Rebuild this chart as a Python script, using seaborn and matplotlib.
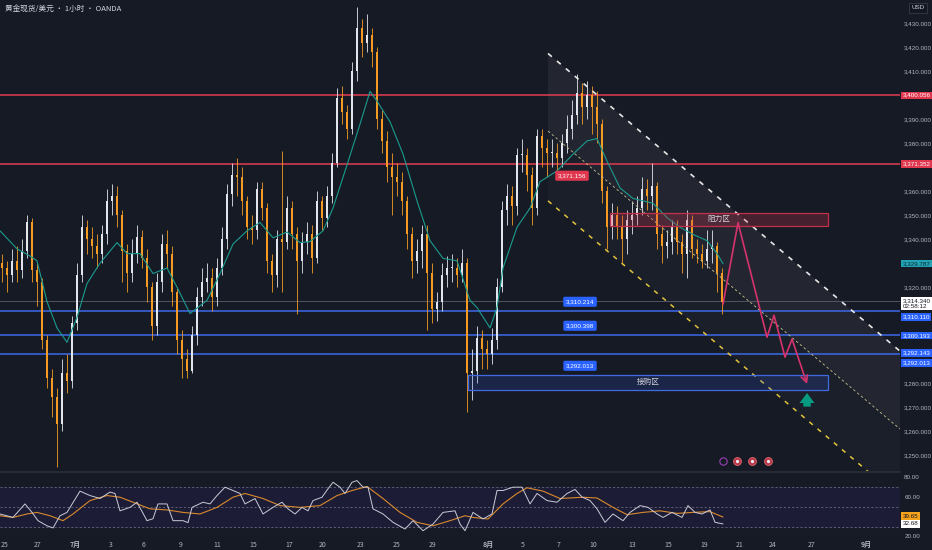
import numpy as np
import pandas as pd
import seaborn as sns
import matplotlib.pyplot as plt
import matplotlib.transforms as mtransforms
from matplotlib.patches import Rectangle, Polygon

# ---- data (x unit = chart time step, one candle every 5) ----
first_open = 3330
closes = [3328, 3325, 3331, 3327, 3335, 3347, 3327, 3322, 3298, 3282,
          3274, 3263, 3284, 3281, 3305, 3325, 3345, 3340, 3337, 3334,
          3342, 3356, 3358, 3350, 3335, 3326, 3334, 3341, 3332, 3320,
          3304, 3322, 3338, 3334, 3318, 3298, 3290, 3285, 3300, 3316,
          3322, 3324, 3316, 3328, 3340, 3359, 3367, 3366, 3356, 3345,
          3344, 3361, 3353, 3331, 3325, 3340, 3339, 3353, 3342, 3331,
          3339, 3342, 3332, 3356, 3349, 3358, 3372, 3399, 3393, 3386,
          3410, 3428, 3422, 3425, 3418, 3390, 3381, 3370, 3366, 3364,
          3356, 3342, 3331, 3335, 3342, 3326, 3311, 3314, 3325, 3328,
          3328, 3325, 3330, 3284, 3285, 3299, 3294, 3292, 3298, 3320,
          3352, 3358, 3354, 3375, 3375, 3367, 3353, 3383, 3378, 3376,
          3376, 3374, 3380, 3386, 3392, 3401, 3395, 3400, 3395, 3388,
          3360, 3345, 3350, 3345, 3340, 3348, 3350, 3353, 3361, 3358,
          3362, 3342, 3337, 3339, 3345, 3339, 3334, 3348, 3336, 3334,
          3331, 3336, 3337, 3326, 3314]
highs = [3334, 3331, 3336, 3337, 3340, 3350, 3349, 3330, 3324, 3300,
         3286, 3278, 3290, 3292, 3308, 3330, 3350, 3348, 3345, 3342,
         3346, 3361, 3363, 3362, 3352, 3338, 3340, 3346, 3344, 3336,
         3322, 3326, 3342, 3344, 3337, 3320, 3302, 3294, 3304, 3320,
         3328, 3330, 3328, 3332, 3345, 3363, 3372, 3374, 3370, 3358,
         3350, 3364, 3364, 3355, 3334, 3344, 3377, 3358, 3356, 3345,
         3343, 3347, 3346, 3360, 3358, 3362, 3376, 3403, 3404, 3396,
         3414, 3437, 3432, 3434, 3428, 3420, 3394, 3385, 3376, 3372,
         3368, 3358, 3345, 3340, 3346, 3346, 3330, 3318, 3330, 3333,
         3334, 3332, 3336, 3332, 3294, 3304, 3302, 3298, 3303, 3324,
         3356, 3363, 3362, 3378, 3382, 3378, 3370, 3386, 3386, 3382,
         3382, 3380, 3384, 3392, 3398, 3409, 3405, 3406, 3404, 3402,
         3390, 3362, 3355, 3354, 3350, 3352, 3356, 3358, 3366, 3365,
         3372, 3364, 3346, 3344, 3348, 3348, 3342, 3352, 3350, 3340,
         3338, 3344, 3344, 3339, 3328]
lows = [3322, 3318, 3322, 3322, 3324, 3332, 3322, 3312, 3294, 3278,
        3266, 3245, 3260, 3276, 3278, 3302, 3322, 3334, 3332, 3328,
        3330, 3338, 3350, 3345, 3322, 3318, 3322, 3330, 3328, 3314,
        3298, 3300, 3318, 3328, 3312, 3292, 3282, 3282, 3284, 3296,
        3312, 3318, 3310, 3312, 3325, 3336, 3354, 3358, 3350, 3340,
        3338, 3340, 3348, 3326, 3318, 3320, 3318, 3336, 3336, 3309,
        3326, 3334, 3326, 3330, 3344, 3345, 3355, 3370, 3388, 3382,
        3384, 3406, 3416, 3418, 3412, 3386, 3376, 3364, 3350, 3358,
        3350, 3336, 3324, 3326, 3328, 3302, 3305, 3306, 3310, 3320,
        3322, 3320, 3322, 3268, 3273, 3280, 3286, 3286, 3288, 3294,
        3318, 3346, 3346, 3350, 3368, 3360, 3346, 3350, 3370, 3366,
        3370, 3368, 3370, 3376, 3382, 3388, 3388, 3390, 3384, 3380,
        3355, 3336, 3340, 3340, 3330, 3334, 3342, 3346, 3350, 3352,
        3352, 3336, 3330, 3332, 3334, 3334, 3326, 3324, 3332, 3330,
        3328, 3328, 3330, 3318, 3309]

ma_t = [0, 17, 30, 37, 47, 57, 67, 77, 87, 100, 117, 127, 140, 153, 167, 177, 190,
        207, 220, 233, 247, 260, 273, 287, 300, 310, 323, 333, 347, 360, 370, 377,
        390, 403, 417, 430, 443, 457, 470, 477, 490, 497, 503, 517, 530, 540, 557,
        573, 587, 597, 607, 620, 633, 653, 667, 680, 693, 707, 717, 723]
ma_val = [3343.5, 3336, 3333, 3331, 3314, 3303, 3297, 3307.4, 3321.5, 3330, 3338.6,
          3334, 3334, 3325.7, 3328, 3320, 3309, 3314.5, 3325.7, 3338, 3343.5, 3347,
          3340.6, 3343, 3338.6, 3339, 3343.5, 3353, 3371, 3388, 3401.7, 3397.6, 3389,
          3375.5, 3356, 3339.4, 3332, 3331, 3314.5, 3311.5, 3303, 3311.5, 3328, 3345,
          3353, 3364, 3368.5, 3375.5, 3381, 3382, 3372.6, 3361.4, 3357, 3355, 3349,
          3345, 3342, 3339.4, 3334, 3329.8]

rsi_t = [0, 13, 25, 32, 38, 47, 53, 60, 67, 80, 90, 100, 110, 115, 120, 130, 137, 147,
         153, 158, 167, 173, 183, 188, 192, 203, 210, 217, 225, 233, 240, 245, 255, 263,
         273, 282, 288, 295, 302, 308, 313, 322, 328, 333, 340, 345, 352, 357, 363, 368,
         373, 383, 393, 405, 413, 423, 433, 443, 455, 460, 465, 473, 483, 492, 497, 503,
         513, 522, 530, 537, 547, 557, 567, 575, 582, 590, 597, 605, 613, 623, 630, 640,
         648, 657, 663, 672, 682, 688, 695, 702, 710, 715, 723]
rsi_val = [42.8, 39.3, 53, 44.4, 36, 30.8, 28.6, 41, 44.4, 66, 61.5, 58.5, 65, 63.6, 46,
           49.5, 54.7, 36, 38, 53, 53, 36, 36, 34, 49.5, 54.7, 53, 61.5, 70, 66.6, 63.6,
           53, 58.5, 42.8, 49.5, 54.7, 48, 42.8, 49.5, 46, 56.4, 59.8, 68.4, 75, 70, 63.6,
           75, 76.7, 70, 70, 48, 42.8, 34.3, 27.5, 36, 25.8, 32.6, 44.4, 46, 32.6, 25.8,
           44.4, 37.7, 42.8, 66.6, 66.6, 70, 70, 53, 63.6, 56.4, 54.7, 63.6, 67.7, 60,
           56.4, 48, 34.3, 42.8, 36, 44.4, 51.3, 49.5, 42.8, 39.3, 44.4, 39.3, 51.3, 44.4,
           42.8, 46.9, 34.3, 32.68]
rsi_ma_t = [0, 13, 27, 37, 50, 63, 73, 90, 107, 120, 133, 150, 167, 183, 200, 217, 233,
            245, 263, 280, 300, 320, 337, 352, 367, 383, 400, 417, 433, 450, 465, 473,
            488, 503, 517, 527, 543, 560, 583, 597, 613, 627, 643, 660, 677, 693, 710, 723]
rsi_ma_val = [41, 39.3, 42.8, 44.4, 41, 36, 42.8, 56.4, 61.5, 59.8, 54.7, 48, 46.9, 44.4,
              42.8, 49.5, 59.8, 63.6, 58.5, 51.3, 49.5, 51.3, 61.5, 66.6, 70.7, 58.5,
              44.4, 34.3, 30.8, 36, 41, 39.3, 37.7, 53, 63.6, 69.4, 66, 58.5, 59.8, 59,
              49.5, 42.1, 44.4, 46, 43.4, 44.4, 45.2, 39.65]

tick_t = [5, 38, 75, 111, 143, 181, 217, 253, 289, 323, 361, 397, 433,
          488, 523, 559, 593, 632, 668, 704, 740, 773, 812, 866]
tick_labels = ["25", "27", "7月", "3", "6", "9", "11", "15", "17", "20", "23", "25", "29",
               "8月", "5", "7", "10", "13", "15", "19", "21", "24", "27", "9月"]

# price scale ticks that are not covered by a tag
price_ticks = [3250, 3260, 3270, 3280, 3320, 3340, 3350, 3360, 3380, 3390, 3410, 3420, 3430]
rsi_ticks = [20, 60, 80]

red_levels = [3400.056, 3371.352]
blue_levels = [3310.110, 3300.193, 3292.143]
last_price = 3314.340

# drawn objects
channel_t = [548, 900]
channel_top = [3417.5, 3293.3]
channel_mid = [3385.1, 3260.8]
channel_bot = [3356.0, 3231.8]
path_t = [723, 738, 767, 774, 785, 792, 807]
path_p = [3312.9, 3346.9, 3299.1, 3308.3, 3290.8, 3298.3, 3279.6]
resist_zone = (610, 828, 3345.6, 3351.0)
support_zone = (468, 828, 3277.1, 3283.4)
marks = [(572, 3366.5, "3,371.156", "#e0364e"),
         (580, 3313.9, "3,310.214", "#2962ff"),
         (580, 3303.9, "3,300.398", "#2962ff"),
         (580, 3287.2, "3,292.013", "#2962ff")]
event_t = [723, 737, 752, 768]

# right-scale tags: (y, text, face, text colour)
price_tags = [(3400.056, "3,400.056", "#e0364e", "white"),
              (3371.352, "3,371.352", "#e0364e", "white"),
              (3329.787, "3,329.787", "#22a3b3", "#0b2a30"),
              (3313.0, "3,314.340\n02:58:12", "#ffffff", "#131722"),
              (3307.5, "3,310.110", "#2962ff", "white"),
              (3299.9, "3,300.193", "#2962ff", "white"),
              (3292.5, "3,292.143", "#2962ff", "white"),
              (3288.3, "3,292.013", "#2962ff", "white")]
rsi_tags = [(40.6, "39.65", "#f7a21b", "#131722"), (32.68, "32.68", "#ffffff", "#131722")]

BG = "#161a25"
TXT = "#b2b5be"
UP = "#e3e5ec"
DOWN = "#f59a23"
NUM_FONT = ["Liberation Sans", "DejaVu Sans"]

sns.set_theme(style="dark", rc={"axes.facecolor": BG, "figure.facecolor": BG})
plt.rcParams["font.family"] = ["Noto Sans CJK SC", "DejaVu Sans"]

fig = plt.figure(figsize=(9.32, 5.5), dpi=100, facecolor=BG)
ax = fig.add_axes([0, 0.1436, 0.9657, 0.8564])
axr = fig.add_axes([0, 0.0236, 0.9657, 0.1182], sharex=ax)

# ---- candles ----
c = np.array(closes, dtype=float)
o = np.concatenate([[first_open], c[:-1]])
h = np.array(highs, dtype=float)
l = np.array(lows, dtype=float)
t = 2 + 5 * np.arange(len(c))
up = c >= o
col = np.where(up, UP, DOWN)
body_lo = np.minimum(o, c)
body_h = np.maximum(np.abs(c - o), 0.5)
ax.vlines(t, l, h, colors=col, lw=0.6, zorder=3)
ax.bar(t, body_h, bottom=body_lo, width=2.4, color=col, linewidth=0, zorder=4)

ma = pd.DataFrame({"t": ma_t, "v": ma_val})
sns.lineplot(data=ma, x="t", y="v", ax=ax, color="#1b9b8e", lw=0.8, zorder=5)

# ---- horizontal levels ----
for lv in red_levels:
    ax.axhline(lv, color="#d23b4f", lw=1.2, zorder=2)
for lv in blue_levels:
    ax.axhline(lv, color="#3a63d8", lw=1.2, zorder=2)
ax.axhline(last_price, color="#5a5e6b", lw=0.6, zorder=2)

# ---- descending channel ----
ax.add_patch(Polygon([(channel_t[0], channel_top[0]), (channel_t[1], channel_top[1]),
                      (channel_t[1], channel_bot[1]), (channel_t[0], channel_bot[0])],
                     closed=True, fc="#ffffff", alpha=0.025, ec="none", zorder=1))
ax.add_patch(Polygon([(channel_t[0], channel_top[0]), (channel_t[1], channel_top[1]),
                      (channel_t[1], channel_mid[1]), (channel_t[0], channel_mid[0])],
                     closed=True, fc="#ffffff", alpha=0.035, ec="none", zorder=1))
ax.plot(channel_t, channel_top, color="#e6e6e6", lw=1.2, ls=(0, (3, 4)), zorder=6)
ax.plot(channel_t, channel_mid, color="#c9c38c", lw=0.6, ls=(0, (3, 3)), zorder=6)
ax.plot(channel_t, channel_bot, color="#e3c43c", lw=1.1, ls=(0, (3, 4)), zorder=6)

# ---- zones ----
x0, x1, y0, y1 = resist_zone
ax.add_patch(Rectangle((x0, y0), x1 - x0, y1 - y0, fc=(0.85, 0.2, 0.3, 0.25),
                       ec="#c2304a", lw=0.9, zorder=6))
ax.text((x0 + x1) / 2, (y0 + y1) / 2, "阻力区", color="#d1d4dc", fontsize=5.5,
        ha="center", va="center", zorder=7)
x0, x1, y0, y1 = support_zone
ax.add_patch(Rectangle((x0, y0), x1 - x0, y1 - y0, fc=(0.2, 0.35, 0.9, 0.18),
                       ec="#3f6ae0", lw=0.9, zorder=6))
ax.text((x0 + x1) / 2, (y0 + y1) / 2, "接购区", color="#d1d4dc", fontsize=5.5,
        ha="center", va="center", zorder=7)

# ---- projected path ----
ax.plot(path_t[:-1], path_p[:-1], color="#d6336c", lw=1.2, zorder=8)
ax.annotate("", xy=(path_t[-1], path_p[-1]), xytext=(path_t[-2], path_p[-2]),
            arrowprops=dict(arrowstyle="->", color="#d6336c", lw=1.2,
                            shrinkA=0, shrinkB=0), zorder=8)
ax.annotate("", xy=(807, 3277.0), xytext=(807, 3269.0),
            arrowprops=dict(arrowstyle="simple,head_width=0.9,head_length=0.6,tail_width=0.45",
                            color="#089981", lw=0), zorder=8)

# ---- price marks on chart ----
for mx, my, s, fc in marks:
    ax.text(mx, my, s, color="white", fontsize=4.6, ha="center", va="center", zorder=9,
            family=NUM_FONT,
            bbox=dict(boxstyle="round,pad=0.4,rounding_size=0.25", fc=fc, ec="none"))

# event icons
ax.scatter(event_t[:1], [3247.5], s=28, facecolor=BG, edgecolor="#9c3fb5", lw=0.8, zorder=9)
ax.scatter(event_t[1:], [3247.5] * 3, s=32, facecolor="#b8323f", edgecolor="#e06b77",
           lw=0.6, zorder=9)
ax.scatter(event_t[1:], [3247.5] * 3, s=6, facecolor="#e8e8f0", lw=0, zorder=10)

ax.set_xlim(0, 900)
ax.set_ylim(3243.3, 3439.8)
ax.yaxis.tick_right()
ax.set_yticks(price_ticks)
ax.set_yticklabels([f"{v:,.3f}" for v in price_ticks], family=NUM_FONT)
ax.tick_params(axis="y", labelsize=4.5, colors=TXT, length=0, pad=3)
ax.tick_params(axis="x", labelbottom=False, length=0)
ax.set_xlabel("")
ax.set_ylabel("")
for sp in ax.spines.values():
    sp.set_visible(False)

tr = mtransforms.blended_transform_factory(ax.transAxes, ax.transData)
for py, s, fc, tc in price_tags:
    ax.text(1.003, py, s, transform=tr, fontsize=4.5, color=tc, ha="left", va="center",
            family=NUM_FONT, linespacing=1.1, zorder=10, clip_on=False,
            bbox=dict(boxstyle="square,pad=0.2", fc=fc, ec="none"))

# ---- RSI panel ----
axr.set_facecolor(BG)
axr.axhspan(30, 70, color="#1d1c37", zorder=0)
for lv in (70, 50, 30):
    axr.axhline(lv, color="#787b86", lw=0.5, ls=(0, (3, 3)), zorder=1)
rsi = pd.DataFrame({"t": rsi_t, "v": rsi_val})
rsi_ma = pd.DataFrame({"t": rsi_ma_t, "v": rsi_ma_val})
sns.lineplot(data=rsi_ma, x="t", y="v", ax=axr, color="#d9892b", lw=0.8, zorder=3)
sns.lineplot(data=rsi, x="t", y="v", ax=axr, color="#c9cbd6", lw=0.7, zorder=4)
axr.set_ylim(19.4, 85.4)
axr.yaxis.tick_right()
axr.set_yticks(rsi_ticks)
axr.set_yticklabels([f"{v:.2f}" for v in rsi_ticks], family=NUM_FONT)
axr.tick_params(axis="y", labelsize=4.5, colors=TXT, length=0, pad=3)
axr.set_xticks(tick_t)
axr.set_xticklabels(tick_labels)
axr.tick_params(axis="x", labelsize=5, colors=TXT, length=0, pad=3)
for lab in axr.get_xticklabels():
    if "月" in lab.get_text():
        lab.set_fontweight("bold")
axr.set_xlabel("")
axr.set_ylabel("")
for sp in axr.spines.values():
    sp.set_visible(False)
axr.spines["top"].set_visible(True)
axr.spines["top"].set_color("#2a2e39")
trr = mtransforms.blended_transform_factory(axr.transAxes, axr.transData)
for py, s, fc, tc in rsi_tags:
    axr.text(1.003, py, s, transform=trr, fontsize=4.5, color=tc, ha="left", va="center",
             family=NUM_FONT, zorder=10, clip_on=False,
             bbox=dict(boxstyle="square,pad=0.2", fc=fc, ec="none"))

# ---- header text ----
fig.text(0.005, 0.984, "黄金现货/美元 · 1小时 · OANDA", color="#d1d4dc", fontsize=5.5,
         ha="left", va="center")
fig.text(0.985, 0.986, "USD", color="#d1d4dc", fontsize=4.5, ha="center", va="center",
         family=NUM_FONT,
         bbox=dict(boxstyle="square,pad=0.4", fc="#131722", ec="#363a45", lw=0.6))

fig.savefig("out.png", dpi=100, facecolor=BG)
